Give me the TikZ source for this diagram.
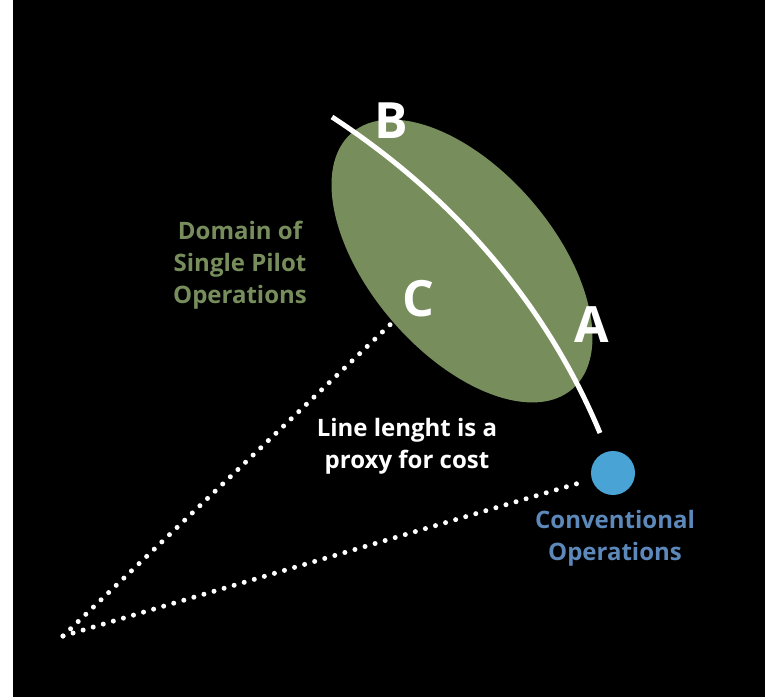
\documentclass[tikz,border=0pt]{standalone}
\usepackage{fontspec}
\setmainfont{Open Sans}
\definecolor{domgreen}{RGB}{119,142,92}
\definecolor{dotblue}{RGB}{74,163,213}
\definecolor{convblue}{RGB}{92,136,186}
\tikzset{
  letter/.style={font=\bfseries\fontsize{50}{50}\selectfont, text=white, inner sep=0pt},
  caption/.style={font=\bfseries\fontsize{24}{32}\selectfont, align=center, inner sep=0pt},
  dotline/.style={white, line width=5pt, line cap=round, dash pattern=on 0pt off 10.5pt},
  curve/.style={white, line width=5pt},
}
\begin{document}
\begin{tikzpicture}[x=1pt,y=-1pt]
  \useasboundingbox[fill=white] (0,0) rectangle (784,697);
  \fill[black] (13,0) rectangle (765,697);
  % domain ellipse
  \fill[domgreen, rotate around={-49.25:(462,261)}] (462,261) ellipse [x radius=169, y radius=92];
  % points
  \coordinate (O) at (63,636);
  \coordinate (Cpt) at (395,320);
  \node[circle, fill=dotblue, minimum size=44pt, inner sep=0pt] (conv) at (613,473) {};
  \coordinate (Bstart) at (332,117);
  \coordinate (Aend) at (600,433);
  % dotted cost lines
  \draw[dotline] (O) -- (Cpt);
  \draw[dotline, shorten >=10pt] (O) -- (conv);
  % trade-off curve
  \draw[curve] (Bstart) .. controls (462,202) and (550,313) .. (Aend);
  % letters
  \node[letter] (B) at (391,121) {B};
  \node[letter] (C) at (418,299) {C};
  \node[letter] (A) at (592,325) {A};
  % captions
  \node[caption, text=domgreen] (dom) at (240,265) {Domain of\\Single Pilot\\Operations};
  \node[caption, text=white] (proxy) at (407,446) {Line lenght is a\\proxy for cost};
  \node[caption, text=convblue] (convtxt) at (615,538) {Conventional\\Operations};
\end{tikzpicture}
\end{document}
